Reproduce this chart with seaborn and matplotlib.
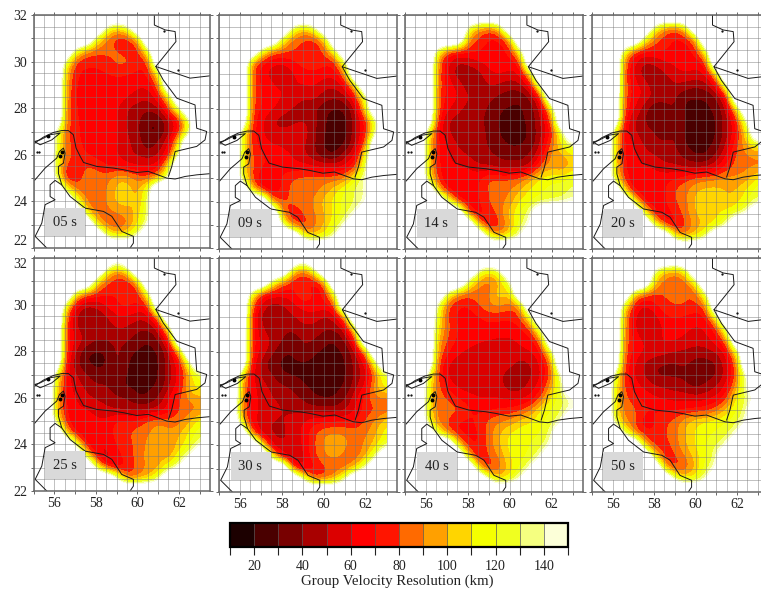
# Group velocity resolution maps for eight periods, with a shared colourbar

import numpy as np
import seaborn as sns
import matplotlib
matplotlib.use("Agg")
import matplotlib.pyplot as plt
from matplotlib.colors import BoundaryNorm, ListedColormap
from matplotlib.cm import ScalarMappable
from matplotlib.patches import Rectangle

sns.set_theme(style="white", font="Liberation Serif")

NO_DATA = 230
lons = np.arange(55, 63.1, 0.5)
lats = np.arange(32, 21.9, -0.5)

# resolution in km: lat -> (first lon of the covered run, values every 0.5 deg)
res_05 = {
    31.5: (58.5, [130, 105, 130]),
    31: (58, [110, 85, 72, 72, 95]),
    30.5: (57, [120, 88, 85, 85, 80, 72, 70, 130]),
    30: (56.5, [125, 75, 72, 72, 75, 85, 85, 72, 72]),
    29.5: (56.5, [100, 70, 68, 68, 70, 72, 70, 68, 70, 115]),
    29: (56.5, [95, 68, 66, 62, 65, 66, 65, 62, 62, 85]),
    28.5: (56.5, [90, 68, 66, 65, 62, 66, 62, 55, 52, 70, 110]),
    28: (56.5, [90, 68, 68, 66, 66, 62, 48, 45, 42, 48, 85, 140]),
    27.5: (56.5, [85, 70, 68, 66, 66, 62, 48, 42, 30, 30, 50, 72, 140]),
    27: (56, [140, 85, 72, 66, 66, 68, 62, 48, 42, 28, 28, 48, 75, 130]),
    26.5: (56, [135, 85, 72, 68, 62, 62, 62, 52, 45, 30, 45, 58, 125]),
    26: (56, [130, 90, 75, 70, 66, 62, 60, 52, 48, 45, 48, 72, 145]),
    25.5: (56, [130, 75, 72, 82, 78, 70, 68, 62, 60, 60, 65, 120]),
    25: (56, [135, 68, 72, 85, 86, 85, 100, 100, 85, 82, 95, 145]),
    24.5: (56.5, [120, 85, 85, 82, 90, 105, 105, 95, 130]),
    24: (57, [125, 85, 85, 90, 105, 105, 95, 135]),
    23.5: (57.5, [100, 85, 85, 90, 95, 105, 135]),
    23: (58, [95, 82, 78, 85, 110, 140]),
    22.5: (58.5, [125, 105, 115, 140]),
}
res_09 = {
    31.5: (58.5, [130, 105, 130]),
    31: (58, [115, 85, 78, 75, 95]),
    30.5: (57, [125, 85, 85, 80, 78, 72, 80, 125]),
    30: (56.5, [90, 70, 62, 62, 68, 78, 78, 72, 72, 130]),
    29.5: (56.5, [85, 65, 55, 48, 58, 65, 68, 66, 62, 95]),
    29: (56.5, [85, 68, 62, 58, 60, 60, 62, 52, 52, 62, 110]),
    28.5: (56.5, [85, 70, 65, 60, 58, 50, 55, 45, 42, 48, 75, 130]),
    28: (56.5, [80, 70, 62, 55, 48, 45, 42, 32, 28, 30, 52, 125]),
    27.5: (56.5, [78, 62, 50, 45, 46, 50, 45, 30, 25, 26, 48, 75, 140]),
    27: (56, [135, 75, 62, 52, 52, 55, 58, 42, 30, 24, 25, 50, 75, 140]),
    26.5: (56, [135, 78, 65, 60, 58, 52, 52, 42, 28, 24, 28, 52, 85]),
    26: (56, [130, 80, 72, 66, 66, 60, 52, 42, 30, 28, 48, 62, 125]),
    25.5: (56, [130, 82, 70, 70, 66, 62, 65, 62, 60, 60, 62, 78, 140]),
    25: (56, [135, 80, 62, 58, 72, 82, 85, 85, 85, 85, 92, 125, 145]),
    24.5: (56.5, [110, 68, 58, 72, 85, 85, 85, 95, 108, 125, 135, 140]),
    24: (57.5, [85, 80, 82, 85, 92, 105, 115, 125, 128, 140]),
    23.5: (58, [80, 72, 80, 88, 100, 112, 125, 145]),
    23: (58, [135, 75, 72, 85, 100, 120, 145]),
    22.5: (59, [115, 100, 115, 140]),
}
res_14 = {
    31.5: (58, [130, 95, 85, 105]),
    31: (58, [90, 78, 68, 66, 90]),
    30.5: (56.5, [125, 82, 72, 75, 72, 66, 66, 70, 125]),
    30: (56.5, [95, 62, 48, 52, 60, 65, 68, 65, 70]),
    29.5: (56.5, [90, 62, 42, 42, 45, 58, 62, 58, 58, 110]),
    29: (56.5, [88, 66, 58, 42, 42, 52, 48, 42, 48, 60, 160]),
    28.5: (56.5, [85, 66, 62, 52, 45, 42, 38, 35, 30, 42, 70]),
    28: (56.5, [85, 62, 55, 45, 42, 40, 30, 28, 28, 35, 52, 110]),
    27.5: (56.5, [75, 50, 45, 42, 42, 38, 28, 28, 28, 32, 52, 80]),
    27: (56, [125, 72, 50, 45, 42, 42, 40, 28, 28, 28, 30, 50, 72, 125]),
    26.5: (56, [125, 72, 60, 48, 42, 42, 40, 32, 28, 28, 32, 52, 85, 115, 140]),
    26: (56, [120, 72, 62, 55, 50, 42, 42, 38, 35, 35, 42, 62, 100, 95, 108]),
    25.5: (56, [125, 72, 62, 62, 60, 52, 50, 45, 45, 45, 52, 88, 95, 88, 105]),
    25: (56, [125, 78, 62, 62, 68, 68, 85, 82, 82, 85, 100, 115, 120, 118, 125]),
    24.5: (56.5, [105, 65, 62, 62, 68, 82, 85, 88, 100, 115, 120, 122, 125, 135]),
    24: (57, [140, 72, 62, 68, 82, 85, 95, 115, 118, 122, 128, 132, 145]),
    23.5: (58, [72, 62, 72, 85, 105, 122, 140]),
    23: (58.5, [90, 65, 75, 95, 125, 150]),
    22.5: (59, [120, 95, 115, 145]),
}
res_20 = {
    31.5: (58, [125, 90, 82, 105]),
    31: (57.5, [125, 85, 75, 68, 68, 88]),
    30.5: (56.5, [125, 80, 72, 72, 72, 66, 66, 70, 125]),
    30: (56.5, [90, 62, 48, 52, 60, 62, 66, 65, 70]),
    29.5: (56.5, [85, 60, 42, 42, 48, 58, 60, 58, 58, 105]),
    29: (56.5, [85, 65, 58, 42, 42, 50, 46, 42, 46, 60, 140]),
    28.5: (56.5, [85, 65, 60, 48, 45, 42, 30, 30, 30, 40, 62]),
    28: (56.5, [80, 62, 45, 30, 35, 42, 27, 27, 27, 32, 50, 105]),
    27.5: (56.5, [72, 50, 42, 28, 30, 42, 27, 27, 27, 28, 48, 75, 145]),
    27: (56, [120, 68, 50, 45, 42, 32, 42, 27, 27, 27, 28, 48, 68, 115]),
    26.5: (56, [125, 70, 60, 48, 42, 42, 42, 28, 27, 27, 30, 52, 80, 100, 120]),
    26: (56, [120, 70, 62, 55, 50, 45, 45, 35, 28, 28, 42, 62, 85, 88, 90]),
    25.5: (56, [120, 72, 62, 62, 60, 52, 52, 48, 48, 48, 58, 75, 85, 88, 88]),
    25: (56, [125, 78, 62, 62, 65, 68, 70, 78, 85, 88, 90, 95, 92, 95, 115]),
    24.5: (56.5, [105, 62, 62, 62, 68, 82, 88, 100, 105, 105, 100, 100, 115, 128]),
    24: (57, [125, 65, 62, 68, 80, 85, 105, 112, 108, 98, 105, 120, 132]),
    23.5: (57.5, [125, 68, 62, 72, 85, 100, 108, 108, 115, 128, 145]),
    23: (58, [125, 72, 62, 78, 95, 100, 108, 135]),
    22.5: (59, [105, 90, 105, 130]),
}
res_25 = {
    32: (59, [165]),
    31.5: (58.5, [115, 90, 115]),
    31: (58, [100, 80, 72, 68, 95]),
    30.5: (57, [110, 85, 78, 72, 70, 70, 68, 130]),
    30: (56.5, [125, 62, 48, 52, 62, 72, 75, 70, 72]),
    29.5: (56.5, [90, 45, 42, 42, 50, 60, 60, 52, 55, 95]),
    29: (56.5, [80, 50, 42, 42, 42, 52, 48, 42, 42, 52, 125]),
    28.5: (56.5, [78, 58, 50, 42, 42, 42, 42, 35, 28, 42, 70]),
    28: (56.5, [75, 52, 30, 28, 30, 45, 32, 28, 28, 28, 52, 95]),
    27.5: (56.5, [68, 42, 28, 28, 28, 45, 28, 28, 28, 28, 48, 68, 135]),
    27: (56, [125, 68, 50, 42, 30, 35, 38, 28, 28, 28, 28, 48, 62, 105, 125]),
    26.5: (56, [120, 68, 55, 48, 42, 42, 30, 28, 28, 28, 30, 50, 68, 108, 120]),
    26: (56, [105, 68, 60, 52, 48, 45, 42, 40, 28, 30, 42, 62, 82, 95, 95]),
    25.5: (56, [105, 70, 62, 62, 58, 52, 48, 48, 48, 48, 52, 65, 82, 85, 88]),
    25: (56, [130, 72, 62, 62, 62, 62, 75, 70, 72, 85, 88, 85, 85, 100, 118]),
    24.5: (56.5, [95, 62, 62, 62, 65, 75, 78, 88, 88, 100, 90, 100, 115, 128]),
    24: (57, [125, 62, 60, 62, 72, 75, 85, 92, 102, 90, 105, 118, 140]),
    23.5: (57.5, [115, 62, 52, 68, 75, 85, 95, 102, 90, 120, 140]),
    23: (58, [120, 65, 60, 70, 85, 92, 92, 120, 150]),
    22.5: (59, [145, 80, 88, 100, 135]),
}
res_30 = {
    32: (59, [170]),
    31.5: (58.5, [105, 85, 115]),
    31: (57.5, [125, 85, 72, 66, 66, 75]),
    30.5: (56.5, [125, 72, 66, 66, 66, 85, 66, 66, 115]),
    30: (56.5, [90, 58, 45, 48, 58, 65, 70, 68, 72]),
    29.5: (56.5, [78, 45, 42, 42, 48, 55, 55, 48, 52, 85]),
    29: (56.5, [78, 52, 42, 42, 42, 48, 48, 42, 42, 52, 120]),
    28.5: (56.5, [75, 58, 50, 42, 32, 42, 42, 32, 28, 40, 68]),
    28: (56.5, [75, 58, 45, 30, 30, 40, 30, 28, 28, 30, 48, 85]),
    27.5: (56.5, [68, 48, 30, 28, 28, 28, 28, 28, 24, 28, 45, 60, 125]),
    27: (56, [115, 65, 48, 42, 30, 28, 28, 28, 28, 27, 28, 42, 55, 90, 125]),
    26.5: (56, [110, 65, 55, 48, 42, 40, 30, 28, 28, 28, 28, 48, 62, 105, 118]),
    26: (56, [105, 65, 58, 50, 48, 42, 40, 30, 28, 28, 40, 58, 78, 88, 85]),
    25.5: (56, [95, 65, 58, 55, 50, 48, 46, 46, 45, 45, 48, 60, 75, 78, 85]),
    25: (56, [115, 65, 55, 50, 48, 55, 60, 68, 68, 72, 72, 72, 82, 95, 108]),
    24.5: (56.5, [85, 52, 48, 48, 52, 62, 78, 90, 92, 90, 85, 88, 100, 118]),
    24: (57, [125, 55, 50, 52, 60, 78, 92, 105, 92, 85, 92, 105, 128]),
    23.5: (57.5, [115, 58, 48, 58, 78, 88, 92, 85, 82, 95, 135]),
    23: (58.5, [72, 52, 65, 78, 82, 82, 100, 145]),
    22.5: (59, [150, 80, 80, 95, 140]),
}
res_40 = {
    31.5: (58.5, [135, 105, 135]),
    31: (58, [125, 92, 85, 92, 135]),
    30.5: (57, [125, 88, 85, 85, 85, 115, 90]),
    30: (56.5, [135, 80, 70, 68, 82, 90, 95, 85, 85]),
    29.5: (56.5, [125, 78, 68, 66, 68, 75, 72, 72, 78, 125]),
    29: (56.5, [110, 85, 68, 66, 66, 66, 66, 65, 68, 78, 145]),
    28.5: (56.5, [100, 80, 68, 65, 62, 60, 58, 58, 62, 66, 85]),
    28: (56.5, [95, 72, 62, 58, 55, 55, 55, 55, 58, 60, 68, 125]),
    27.5: (56.5, [85, 60, 55, 55, 55, 55, 55, 55, 45, 50, 62, 85]),
    27: (56, [140, 82, 58, 52, 52, 52, 52, 52, 45, 40, 48, 60, 85, 145]),
    26.5: (56, [130, 85, 68, 58, 55, 55, 55, 55, 42, 45, 55, 65, 100, 135]),
    26: (56, [125, 85, 82, 70, 65, 60, 60, 60, 58, 58, 62, 82, 118, 125, 145]),
    25.5: (56, [125, 85, 85, 85, 72, 68, 68, 72, 72, 78, 90, 118, 120, 130, 148]),
    25: (56, [130, 88, 80, 68, 68, 72, 85, 90, 95, 105, 112, 118, 125, 140]),
    24.5: (56.5, [120, 85, 68, 66, 68, 85, 100, 112, 118, 118, 120, 135]),
    24: (57.5, [105, 72, 68, 85, 100, 115, 118, 120, 125, 145]),
    23.5: (58, [95, 68, 80, 90, 112, 118, 120, 140]),
    23: (58.5, [95, 68, 85, 105, 118, 145]),
    22.5: (59, [145, 100, 118, 145]),
}
res_50 = {
    31.5: (58, [135, 100, 88, 110]),
    31: (58, [100, 85, 85, 82, 115]),
    30.5: (57, [105, 82, 78, 82, 82, 80, 78, 135]),
    30: (56.5, [120, 72, 58, 68, 78, 82, 82, 78, 80]),
    29.5: (56.5, [100, 62, 48, 55, 68, 72, 68, 65, 68, 120]),
    29: (56.5, [95, 62, 48, 52, 62, 65, 62, 58, 60, 72, 140]),
    28.5: (56.5, [90, 68, 58, 58, 62, 62, 58, 55, 58, 65, 85]),
    28: (56.5, [85, 68, 60, 58, 55, 50, 48, 45, 45, 52, 62, 115]),
    27.5: (56.5, [80, 62, 48, 42, 38, 38, 42, 35, 35, 38, 58, 85]),
    27: (56, [140, 78, 60, 50, 38, 38, 38, 38, 35, 35, 38, 55, 85, 145]),
    26.5: (56, [130, 80, 65, 58, 52, 48, 45, 42, 35, 42, 50, 62, 100, 145]),
    26: (56, [125, 85, 75, 68, 62, 60, 58, 58, 55, 58, 62, 78, 118, 130, 155]),
    25.5: (56, [125, 85, 85, 72, 72, 68, 68, 70, 72, 75, 85, 105, 120, 140]),
    25: (56, [135, 90, 85, 62, 68, 78, 85, 100, 110, 115, 118, 122, 128, 145]),
    24.5: (56.5, [135, 85, 72, 72, 80, 85, 100, 112, 118, 120, 125, 140]),
    24: (57.5, [95, 72, 75, 85, 100, 112, 120, 130, 140]),
    23.5: (58, [115, 68, 78, 88, 105, 120, 135]),
    23: (58.5, [95, 72, 82, 100, 125, 145]),
    22.5: (59, [140, 110, 118, 140]),
}
panels = [res_05, res_09, res_14, res_20, res_25, res_30, res_40, res_50]
panel_names = ["05 s", "09 s", "14 s", "20 s", "25 s", "30 s", "40 s", "50 s"]

# left, right, top, bottom of each map in pixels
panel_px = [(33.5, 210, 15, 248), (218.5, 397, 15, 249),
            (405, 583, 15, 249), (592, 768, 15, 249),
            (33.5, 210, 258, 491), (219, 397, 258, 492),
            (405, 583, 258, 492), (592, 768, 258, 492)]

levels = list(range(10, 151, 10))
bar_colors = ["#1c0000", "#4a0000", "#780000", "#a80000", "#dc0000", "#ff0000",
              "#ff1500", "#ff6a00", "#ffa000", "#ffd500", "#f5ff00", "#f0ff20",
              "#f5ff80", "#fcffd8"]

# borders and coasts, lon then lat
iran_lon = [55.05, 55.48, 55.96, 56.36, 56.68, 56.92, 57.05, 57.25, 57.41, 58.05,
            58.85, 59.33, 59.97, 60.53, 61.42, 61.82, 62.3, 62.86, 63.5]
iran_lat = [26.5, 26.76, 26.96, 27.04, 27.04, 26.86, 26.29, 25.93, 25.67, 25.5,
            25.43, 25.36, 25.24, 25.29, 25.0, 24.96, 25.07, 25.14, 25.19]
north_lon = [60.82, 60.82, 61.34, 61.82, 61.86, 60.89, 62.54, 63.5]
north_lat = [32, 31.57, 31.36, 31.29, 30.86, 29.79, 29.29, 29.39]
east_lon = [60.89, 61.25, 61.9, 62.78, 62.86, 63.34, 63.26, 62.86, 61.82, 61.66, 61.5]
east_lat = [29.79, 29.21, 28.43, 28.14, 27.14, 27, 26.64, 26.36, 26.14, 25.5, 25.07]
oman_lon = [55.05, 55.56, 56.12, 56.25, 56.44, 56.52, 56.44, 56.2, 56.2, 56.36,
            56.76, 57.49, 58.37, 58.77, 59.25, 59.81, 59.81, 59.65]
oman_lat = [24.9, 25.43, 25.86, 26.14, 26.29, 26.07, 25.64, 25.5, 25.21, 24.71,
            24.21, 23.71, 23.57, 23.36, 22.71, 22.5, 22.21, 22]
inland_lon = [56.36, 56.04, 55.8, 55.8, 56.04, 55.56, 55.4, 55.08, 55.64]
inland_lat = [24.71, 24.9, 24.71, 24.21, 24.07, 23.86, 23.07, 22.5, 22]
qeshm_lon = [55.05, 55.32, 55.88, 56.28, 55.8, 55.32, 55.05]
qeshm_lat = [26.57, 26.43, 26.64, 26.93, 26.86, 26.64, 26.57]
blob_lon = [55.72, 56.36, 56.3]
blob_lat = [26.79, 26.14, 25.95]
dot_lon = [61.98, 61.29, 55.16, 55.28]
dot_lat = [29.64, 31.33, 26.14, 26.14]
lines = [(iran_lon, iran_lat), (north_lon, north_lat), (east_lon, east_lat),
         (oman_lon, oman_lat), (inland_lon, inland_lat), (qeshm_lon, qeshm_lat)]

cmap = ListedColormap(sns.color_palette(bar_colors, len(bar_colors)))
cmap.set_over("white")
cmap.set_under(bar_colors[0])
norm = BoundaryNorm(levels, cmap.N)

fig_w, fig_h = 761, 590
fig = plt.figure(figsize=(fig_w / 100, fig_h / 100), dpi=100)


def px_axes(left, right, top, bottom):
    return fig.add_axes([left / fig_w, 1 - bottom / fig_h,
                         (right - left) / fig_w, (bottom - top) / fig_h])


def to_grid(rows):
    grid = np.full((len(lats), len(lons)), float(NO_DATA))
    for lat, (start, values) in rows.items():
        r = int(round((32 - lat) * 2))
        c = int(round((start - 55) * 2))
        grid[r, c:c + len(values)] = values
    return grid


for i, rows in enumerate(panels):
    ax = px_axes(*panel_px[i])
    im = ax.imshow(to_grid(rows), cmap=cmap, norm=norm, aspect="auto",
                   extent=(54.75, 63.25, 21.75, 32.25), interpolation="bicubic",
                   interpolation_stage="data", zorder=1)
    im.set_clip_path(Rectangle((55, 22), 8, 10, transform=ax.transData))
    ax.set_xlim(55, 63.5)
    ax.set_ylim(22, 32)

    ax.set_xticks(np.arange(55, 63.6, 1))
    ax.set_yticks(np.arange(22, 32.1, 1))
    ax.set_xticks(np.arange(55, 63.6, 0.5), minor=True)
    ax.set_yticks(np.arange(22, 32.1, 0.5), minor=True)
    ax.set_axisbelow(False)
    ax.grid(which="both", color="#777777", linewidth=0.5, alpha=0.65)
    ax.tick_params(which="major", length=2.5, width=0.7, color="#666666", pad=2,
                   top=True, right=True, bottom=True, left=True, labelsize=10,
                   labelcolor="#222222")
    ax.tick_params(which="minor", length=0)
    ax.set_xticklabels([str(v) if v % 2 == 0 else "" for v in range(55, 64)]
                       if i >= 4 else [""] * 9)
    ax.set_yticklabels([str(v) if v % 2 == 0 else "" for v in range(22, 33)]
                       if i % 4 == 0 else [""] * 11)
    if i == 0:
        ax.get_yticklabels()[0].set_va("bottom")
    if i == 4:
        ax.get_yticklabels()[-1].set_va("top")
    for side in ax.spines.values():
        side.set_color("#666666")
        side.set_linewidth(1.1)
        side.set_zorder(6)

    for lon, lat in lines:
        sns.lineplot(x=lon, y=lat, sort=False, estimator=None, color="#1a1a1a",
                     linewidth=0.7, ax=ax, zorder=4)
    ax.plot(blob_lon, blob_lat, "o", color="black", markersize=1.8, zorder=4)
    ax.plot(dot_lon, dot_lat, "o", color="black", markersize=0.6, zorder=4)
    ax.set_xlabel("")
    ax.set_ylabel("")

    ax.add_patch(Rectangle((55.55, 22.5), 1.93, 1.2, facecolor="#d9d9d9",
                           edgecolor="none", zorder=5))
    ax.text(56.5, 23.08, panel_names[i], ha="center", va="center", fontsize=10.5,
            color="#222222", zorder=6)

cax = px_axes(230, 568, 523, 547)
bar = fig.colorbar(ScalarMappable(norm=norm, cmap=cmap), cax=cax,
                   orientation="horizontal", spacing="proportional",
                   ticks=levels, drawedges=True)
bar.outline.set_linewidth(1.6)
bar.outline.set_edgecolor("black")
bar.dividers.set_color("#555555")
bar.dividers.set_linewidth(0.5)
cax.tick_params(length=6, width=0.8, color="#222222", pad=3, labelsize=10,
                labelcolor="#222222", bottom=True)
cax.set_xticklabels([str(v) if v % 20 == 0 and v not in (0, 10, 150) else ""
                     for v in levels])
fig.text(397 / fig_w, 1 - 581 / fig_h, "Group Velocity Resolution (km)",
         ha="center", va="center", fontsize=10.7, color="#222222")

fig.savefig("out.png", dpi=100)
